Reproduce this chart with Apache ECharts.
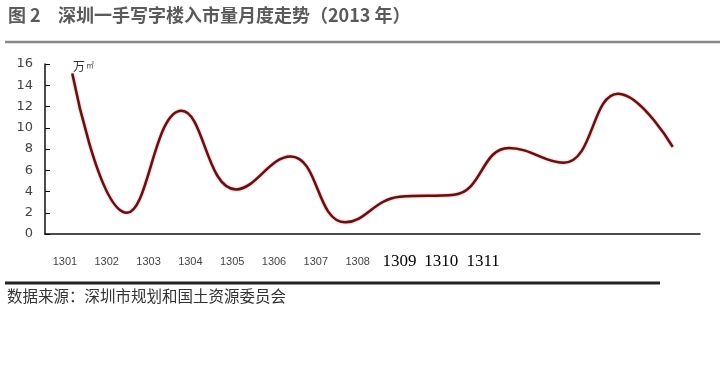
<!DOCTYPE html>
<html><head><meta charset="utf-8">
<script src="https://cdn.jsdelivr.net/npm/echarts@6/dist/echarts.min.js"></script>
<style>html,body{margin:0;padding:0;background:#fff}#c{width:720px;height:365px}</style>
</head><body><div id="c"></div>
<script>
var titleLead = '图 2';
var titleText = '深圳一手写字楼入市量月度走势（2013 年）';
var sourceText = '数据来源：深圳市规划和国土资源委员会';
var unitText = '万';
var unitSub = '㎡';
var months = ['1301','1302','1303','1304','1305','1306','1307','1308','1309','1310','1311','1312'];
var volume = [15.1, 2.0, 11.6, 4.2, 7.3, 1.1, 3.5, 3.7, 8.1, 6.7, 13.2, 8.2];
var tickLabels = ['1301','1302','1303','1304','1305','1306','1307','1308','1309','1310','1311'];
var bigLabels = ['1309','1310','1311'];

var chart = echarts.init(document.getElementById('c'));
chart.setOption({
  animation: false,
  backgroundColor: '#fff',
  grid: [
    {left: 45, top: 64, width: 655, height: 170},
    {left: 44, top: 200, width: 460, height: 34}
  ],
  xAxis: [
    {type: 'category', gridIndex: 0, data: months, boundaryGap: true,
     axisLine: {lineStyle: {color: '#111', width: 1.5}},
     axisTick: {inside: true, length: 4, lineStyle: {color: '#111'}},
     axisLabel: {show: false}},
    {type: 'category', gridIndex: 1, data: tickLabels, boundaryGap: true,
     axisLine: {show: false}, axisTick: {show: false},
     axisLabel: {
       interval: 0, margin: 20,
       formatter: function (v) { return bigLabels.indexOf(v) >= 0 ? '{b|' + v + '}' : '{s|' + v + '}'; },
       rich: {
         s: {fontFamily: 'Liberation Sans, sans-serif', fontSize: 11, color: '#444', lineHeight: 16},
         b: {fontFamily: 'Liberation Serif, serif', fontSize: 17, color: '#000', lineHeight: 16}
       }
     }}
  ],
  yAxis: [
    {type: 'value', gridIndex: 0, min: 0, max: 16, interval: 2,
     axisLine: {show: true, lineStyle: {color: '#111', width: 1.5}},
     axisTick: {show: true, inside: true, length: 5, lineStyle: {color: '#111'}},
     splitLine: {show: false},
     axisLabel: {margin: 12, fontFamily: 'DejaVu Sans, sans-serif', fontSize: 13, color: '#444'}},
    {type: 'value', gridIndex: 1, show: false, min: 0, max: 1}
  ],
  series: [{
    type: 'line', xAxisIndex: 0, yAxisIndex: 0, data: volume,
    smooth: 0.45, symbol: 'none',
    lineStyle: {color: '#5e1414', width: 2.5, shadowColor: 'rgba(230,40,40,0.6)', shadowBlur: 2}
  }],
  graphic: [
    {type: 'text', left: 8, top: 6, style: {text: titleLead, font: 'bold 18px "Noto Sans CJK SC", sans-serif', fill: '#5a5a5a'}},
    {type: 'text', left: 58, top: 6, style: {text: titleText, font: 'bold 18px "Noto Sans CJK SC", sans-serif', fill: '#5a5a5a'}},
    {type: 'line', shape: {x1: 5, y1: 42, x2: 720, y2: 42}, style: {stroke: '#888', lineWidth: 2.5}},
    {type: 'text', left: 73, top: 60, style: {text: unitText, font: '12px "Noto Sans CJK SC", sans-serif', fill: '#333'}},
    {type: 'text', left: 86, top: 61, style: {text: unitSub, font: '8px "Noto Sans CJK SC", sans-serif', fill: '#555'}},
    {type: 'line', shape: {x1: 5, y1: 283, x2: 660, y2: 283}, style: {stroke: '#222', lineWidth: 3}},
    {type: 'text', left: 7, top: 288, style: {text: sourceText, font: '15.5px "Noto Sans CJK SC", sans-serif', fill: '#333'}}
  ]
});
</script></body></html>
